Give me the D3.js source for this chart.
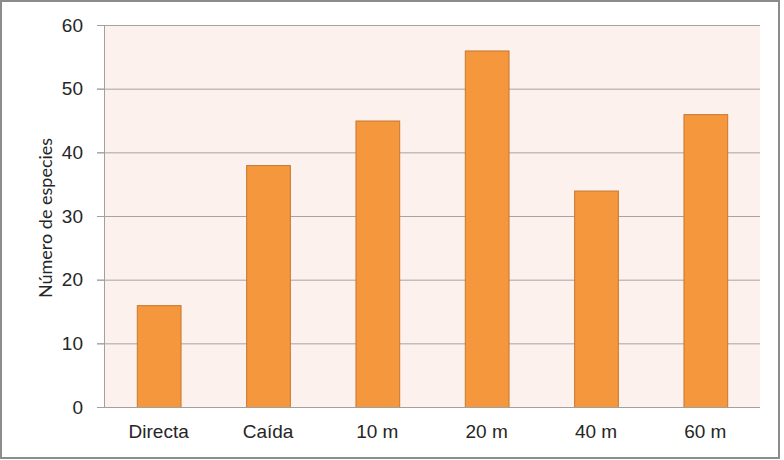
<!DOCTYPE html>
<html>
<head>
<meta charset="utf-8">
<script src="https://cdn.jsdelivr.net/npm/d3@7"></script>
<style>
  body { margin: 0; background: #fff; }
  svg { display: block; font-family: Lato, "Open Sans", sans-serif; }
</style>
</head>
<body>
<div id="chart"></div>
<script>
// data
var categories = ["Directa", "Caída", "10 m", "20 m", "40 m", "60 m"];
var species = [16, 38, 45, 56, 34, 46];
var yTicks = [0, 10, 20, 30, 40, 50, 60];

var W = 784, H = 460;
var margins = {top: 25, right: 24, bottom: 53, left: 104};
var width = W - margins.left - margins.right,
    height = H - margins.top - margins.bottom;

var svg = d3.select("#chart").append("svg")
    .attr("width", W)
    .attr("height", H);

// outer frame
svg.append("rect")
    .attr("x", 1).attr("y", 1)
    .attr("width", W - 6).attr("height", H - 3)
    .attr("fill", "#fff")
    .attr("stroke", "#8c8c8c")
    .attr("stroke-width", 2);

var g = svg.append("g")
    .attr("transform", "translate(" + margins.left + "," + margins.top + ")");

var x = d3.scaleBand()
    .domain(categories)
    .range([0, width]);

var y = d3.scaleLinear()
    .domain([0, 60])
    .range([height, 0]);

// plot background
g.append("rect")
    .attr("width", width)
    .attr("height", height)
    .attr("fill", "#fdf1ee");

// gridlines
g.selectAll(".grid")
    .data(yTicks.filter(function(d) { return d > 0; }))
  .enter().append("line")
    .attr("x1", -7).attr("x2", width)
    .attr("y1", function(d) { return y(d) + 0.5; })
    .attr("y2", function(d) { return y(d) + 0.5; })
    .attr("stroke", "#a8a3a1")
    .attr("stroke-width", 1);

// bars
var barW = x.bandwidth() * 0.4;
g.selectAll(".bar")
    .data(species)
  .enter().append("rect")
    .attr("x", function(d, i) { return x(categories[i]) + (x.bandwidth() - barW) / 2 + 0.5; })
    .attr("y", function(d) { return y(d) + 0.5; })
    .attr("width", barW)
    .attr("height", function(d) { return height - y(d); })
    .attr("fill", "#f4973d")
    .attr("stroke", "#c9772e")
    .attr("stroke-width", 1);

// axes
var yAxis = d3.axisLeft(y).tickValues(yTicks).tickSize(7).tickPadding(14);
var ya = g.append("g").call(yAxis);
ya.select(".domain").attr("stroke", "#a0a0a0").attr("d", "M0.5," + height + "V0");
ya.selectAll(".tick line").attr("stroke", "#a0a0a0");
ya.selectAll("text").attr("fill", "#262626").attr("font-size", 19);

var xAxis = d3.axisBottom(x).tickSize(0).tickPadding(18);
var xa = g.append("g").attr("transform", "translate(0," + height + ")").call(xAxis);
xa.select(".domain").attr("stroke", "#a0a0a0").attr("d", "M0,0.5H" + width);
xa.selectAll("text").attr("fill", "#262626").attr("font-size", 19);

// y label
svg.append("text")
    .attr("transform", "translate(52," + (margins.top + 193) + ") rotate(-90)")
    .attr("text-anchor", "middle")
    .attr("fill", "#262626")
    .attr("font-size", 18)
    .text("Número de especies");
</script>
</body>
</html>
